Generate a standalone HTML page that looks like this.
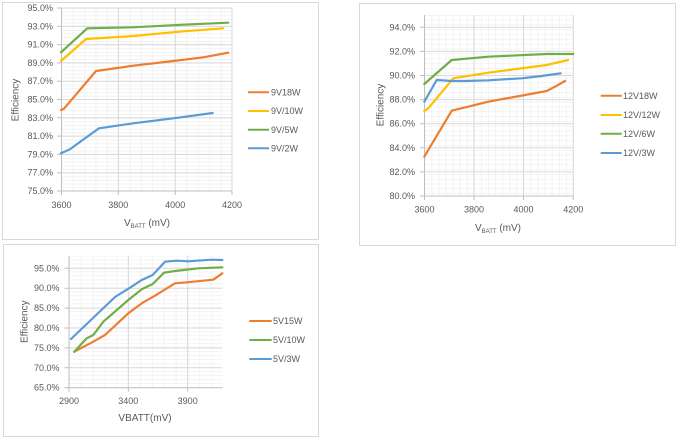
<!DOCTYPE html>
<html><head><meta charset="utf-8"><style>
html,body{margin:0;padding:0;background:#fff;}
svg{display:block;}
text{font-family:"Liberation Sans",sans-serif;fill:#595959;}
</style></head><body>
<svg width="680" height="441" viewBox="0 0 680 441" xmlns="http://www.w3.org/2000/svg">
<defs>
<pattern id="g1" x="61.5" y="8" width="11.37" height="3.66" patternUnits="userSpaceOnUse"><path d="M0 0.3H11.37M0.3 0V3.66" stroke="#ededed" stroke-width="0.7" fill="none"/></pattern>
<pattern id="g2" x="424.5" y="15" width="7.07" height="4.82" patternUnits="userSpaceOnUse"><path d="M0 0.3H7.07M0.3 0V4.82" stroke="#ededed" stroke-width="0.7" fill="none"/></pattern>
<pattern id="g3" x="69" y="255.7" width="11.86" height="3.98" patternUnits="userSpaceOnUse"><path d="M0 0.3H11.86M0.3 0V3.98" stroke="#ededed" stroke-width="0.7" fill="none"/></pattern>
</defs>
<rect width="680" height="441" fill="#fff"/>

<!-- ============ CHART 1 ============ -->
<rect x="2.5" y="2.5" width="316" height="237" fill="#fff" stroke="#d9d9d9" stroke-width="1"/>
<rect x="61.5" y="8" width="170.5" height="183" fill="url(#g1)"/>
<g stroke="#d9d9d9" stroke-width="1">
<path d="M61.5 8H232M61.5 26.3H232M61.5 44.6H232M61.5 62.9H232M61.5 81.2H232M61.5 99.5H232M61.5 117.8H232M61.5 136.1H232M61.5 154.4H232M61.5 172.7H232"/>
<path d="M118.3 8V191M175.2 8V191M232 8V191"/>
</g>
<g stroke="#bfbfbf" stroke-width="1">
<path d="M61.5 8V191M61.5 191H232"/>
<path d="M57 8H61.5M57 26.3H61.5M57 44.6H61.5M57 62.9H61.5M57 81.2H61.5M57 99.5H61.5M57 117.8H61.5M57 136.1H61.5M57 154.4H61.5M57 172.7H61.5M57 191H61.5"/>
<path d="M61.5 191V195M118.3 191V195M175.2 191V195M232 191V195"/>
</g>
<g font-size="9" text-anchor="end">
<text x="53" y="11">95.0%</text><text x="53" y="29.3">93.0%</text><text x="53" y="47.6">91.0%</text><text x="53" y="65.9">89.0%</text><text x="53" y="84.2">87.0%</text><text x="53" y="102.5">85.0%</text><text x="53" y="120.8">83.0%</text><text x="53" y="139.1">81.0%</text><text x="53" y="157.4">79.0%</text><text x="53" y="175.7">77.0%</text><text x="53" y="194">75.0%</text>
</g>
<g font-size="9" text-anchor="middle">
<text x="61.5" y="208">3600</text><text x="118.3" y="208">3800</text><text x="175.2" y="208">4000</text><text x="232" y="208">4200</text>
</g>
<text x="147" y="226" font-size="10" text-anchor="middle">V<tspan font-size="6" dy="2">BATT</tspan><tspan dy="-2"> (mV)</tspan></text>
<text transform="translate(18.5,100) rotate(-90)" font-size="10" text-anchor="middle">Efficiency</text>
<g fill="none" stroke-width="2.2" stroke-linejoin="round" stroke-linecap="round">
<polyline stroke="#70AD47" points="61,52.3 87.3,28.3 133.3,27.3 183.3,24.7 228.3,22.7"/>
<polyline stroke="#FFC000" points="61,61 86,39 133.3,36 183.3,31.3 223.3,28.3"/>
<polyline stroke="#ED7D31" points="61,110 64,108.7 96,71 133.3,65.7 173.3,61 203.3,57.3 228.3,52.7"/>
<polyline stroke="#5B9BD5" points="61,153.3 70,149.3 84,139 99,128.3 133.3,123.3 173.3,118.3 212.7,113"/>
</g>
<g stroke-width="2">
<line x1="248" y1="92.3" x2="269" y2="92.3" stroke="#ED7D31"/>
<line x1="248" y1="111" x2="269" y2="111" stroke="#FFC000"/>
<line x1="248" y1="129.7" x2="269" y2="129.7" stroke="#70AD47"/>
<line x1="248" y1="148.3" x2="269" y2="148.3" stroke="#5B9BD5"/>
</g>
<g font-size="9">
<text x="271" y="95.5">9V18W</text><text x="271" y="114.2">9V/10W</text><text x="271" y="132.9">9V/5W</text><text x="271" y="151.5">9V/2W</text>
</g>

<!-- ============ CHART 2 ============ -->
<rect x="359.5" y="3.5" width="316" height="242" fill="#fff" stroke="#d9d9d9" stroke-width="1"/>
<rect x="424.5" y="15" width="148.8" height="181" fill="url(#g2)"/>
<g stroke="#d9d9d9" stroke-width="1">
<path d="M424.5 27.3H573.3M424.5 51.4H573.3M424.5 75.5H573.3M424.5 99.6H573.3M424.5 123.7H573.3M424.5 147.8H573.3M424.5 171.9H573.3"/>
<path d="M474 15V196M523.5 15V196M573.3 15V196"/>
</g>
<g stroke="#bfbfbf" stroke-width="1">
<path d="M424.5 15V196M424.5 196H573.3"/>
<path d="M420 27.3H424.5M420 51.4H424.5M420 75.5H424.5M420 99.6H424.5M420 123.7H424.5M420 147.8H424.5M420 171.9H424.5M420 196H424.5"/>
<path d="M424.5 196V200M474 196V200M523.5 196V200M573.3 196V200"/>
</g>
<g font-size="9" text-anchor="end">
<text x="415" y="30.3">94.0%</text><text x="415" y="54.4">92.0%</text><text x="415" y="78.5">90.0%</text><text x="415" y="102.6">88.0%</text><text x="415" y="126.7">86.0%</text><text x="415" y="150.8">84.0%</text><text x="415" y="174.9">82.0%</text><text x="415" y="199">80.0%</text>
</g>
<g font-size="9" text-anchor="middle">
<text x="424.5" y="212.5">3600</text><text x="474" y="212.5">3800</text><text x="523.5" y="212.5">4000</text><text x="573.3" y="212.5">4200</text>
</g>
<text x="498" y="231" font-size="10" text-anchor="middle">V<tspan font-size="6" dy="2">BATT</tspan><tspan dy="-2"> (mV)</tspan></text>
<text transform="translate(383.5,105) rotate(-90)" font-size="10" text-anchor="middle">Efficiency</text>
<g fill="none" stroke-width="2.2" stroke-linejoin="round" stroke-linecap="round">
<polyline stroke="#ED7D31" points="424.3,156.7 451.7,110.7 488.3,101.7 546.7,91 555,86.7 565,81"/>
<polyline stroke="#FFC000" points="424.3,111 428.3,108.3 453.3,78.3 488.3,72.7 546.7,65 568.3,60"/>
<polyline stroke="#70AD47" points="424.3,84 451.7,60 488.3,56.7 546.7,54 573.3,54"/>
<polyline stroke="#5B9BD5" points="424.3,101.7 436.7,80 451.7,81 465,81 488.3,80.3 521.7,78.3 541.7,76 560.7,73.3"/>
</g>
<g stroke-width="2">
<line x1="600.7" y1="95.7" x2="621.7" y2="95.7" stroke="#ED7D31"/>
<line x1="600.7" y1="115" x2="621.7" y2="115" stroke="#FFC000"/>
<line x1="600.7" y1="133.7" x2="621.7" y2="133.7" stroke="#70AD47"/>
<line x1="600.7" y1="153" x2="621.7" y2="153" stroke="#5B9BD5"/>
</g>
<g font-size="9">
<text x="623" y="98.9">12V18W</text><text x="623" y="118.2">12V/12W</text><text x="623" y="136.9">12V/6W</text><text x="623" y="156.2">12V/3W</text>
</g>

<!-- ============ CHART 3 ============ -->
<rect x="3.5" y="244.5" width="315" height="192" fill="#fff" stroke="#d9d9d9" stroke-width="1"/>
<rect x="69" y="255.7" width="153.3" height="132" fill="url(#g3)"/>
<g stroke="#d9d9d9" stroke-width="1">
<path d="M69 268.3H222.3M69 288.2H222.3M69 308.1H222.3M69 328H222.3M69 347.9H222.3M69 367.8H222.3"/>
<path d="M128.3 255.7V387.7M187.7 255.7V387.7"/>
</g>
<g stroke="#bfbfbf" stroke-width="1">
<path d="M69 255.7V387.7M69 387.7H222.3"/>
<path d="M64.5 268.3H69M64.5 288.2H69M64.5 308.1H69M64.5 328H69M64.5 347.9H69M64.5 367.8H69M64.5 387.7H69"/>
<path d="M69 387.7V391.7M128.3 387.7V391.7M187.7 387.7V391.7"/>
</g>
<g font-size="9" text-anchor="end">
<text x="59.5" y="271.3">95.0%</text><text x="59.5" y="291.2">90.0%</text><text x="59.5" y="311.1">85.0%</text><text x="59.5" y="331">80.0%</text><text x="59.5" y="350.9">75.0%</text><text x="59.5" y="370.8">70.0%</text><text x="59.5" y="390.7">65.0%</text>
</g>
<g font-size="9" text-anchor="middle">
<text x="69" y="404">2900</text><text x="128.3" y="404">3400</text><text x="187.7" y="404">3900</text>
</g>
<text x="145" y="421" font-size="10" text-anchor="middle">VBATT(mV)</text>
<text transform="translate(27.5,321.7) rotate(-90)" font-size="10" text-anchor="middle">Efficiency</text>
<g fill="none" stroke-width="2.2" stroke-linejoin="round" stroke-linecap="round">
<polyline stroke="#ED7D31" points="74.3,351.7 93.3,341.7 105,335 128.3,313.3 143.3,302.3 153.3,296.7 175,283.3 186.7,282.3 213.3,279.7 222.3,273.3"/>
<polyline stroke="#70AD47" points="74.3,351.7 86.7,338.3 93.3,335 103.3,321.7 128.3,300 141.7,289.3 152.7,284 164,272.7 175,271 198.3,268.3 222.3,267.3"/>
<polyline stroke="#5B9BD5" points="71,339 93,318 115,297 130,287.7 141.7,280 152.7,275 165,261.7 176.7,260.7 188.3,261.3 211.7,259.7 222.3,260"/>
</g>
<g stroke-width="2">
<line x1="249.3" y1="321" x2="271.7" y2="321" stroke="#ED7D31"/>
<line x1="249.3" y1="340" x2="271.7" y2="340" stroke="#70AD47"/>
<line x1="249.3" y1="359" x2="271.7" y2="359" stroke="#5B9BD5"/>
</g>
<g font-size="9">
<text x="273" y="324.2">5V15W</text><text x="273" y="343.2">5V/10W</text><text x="273" y="362.2">5V/3W</text>
</g>
</svg>
</body></html>
